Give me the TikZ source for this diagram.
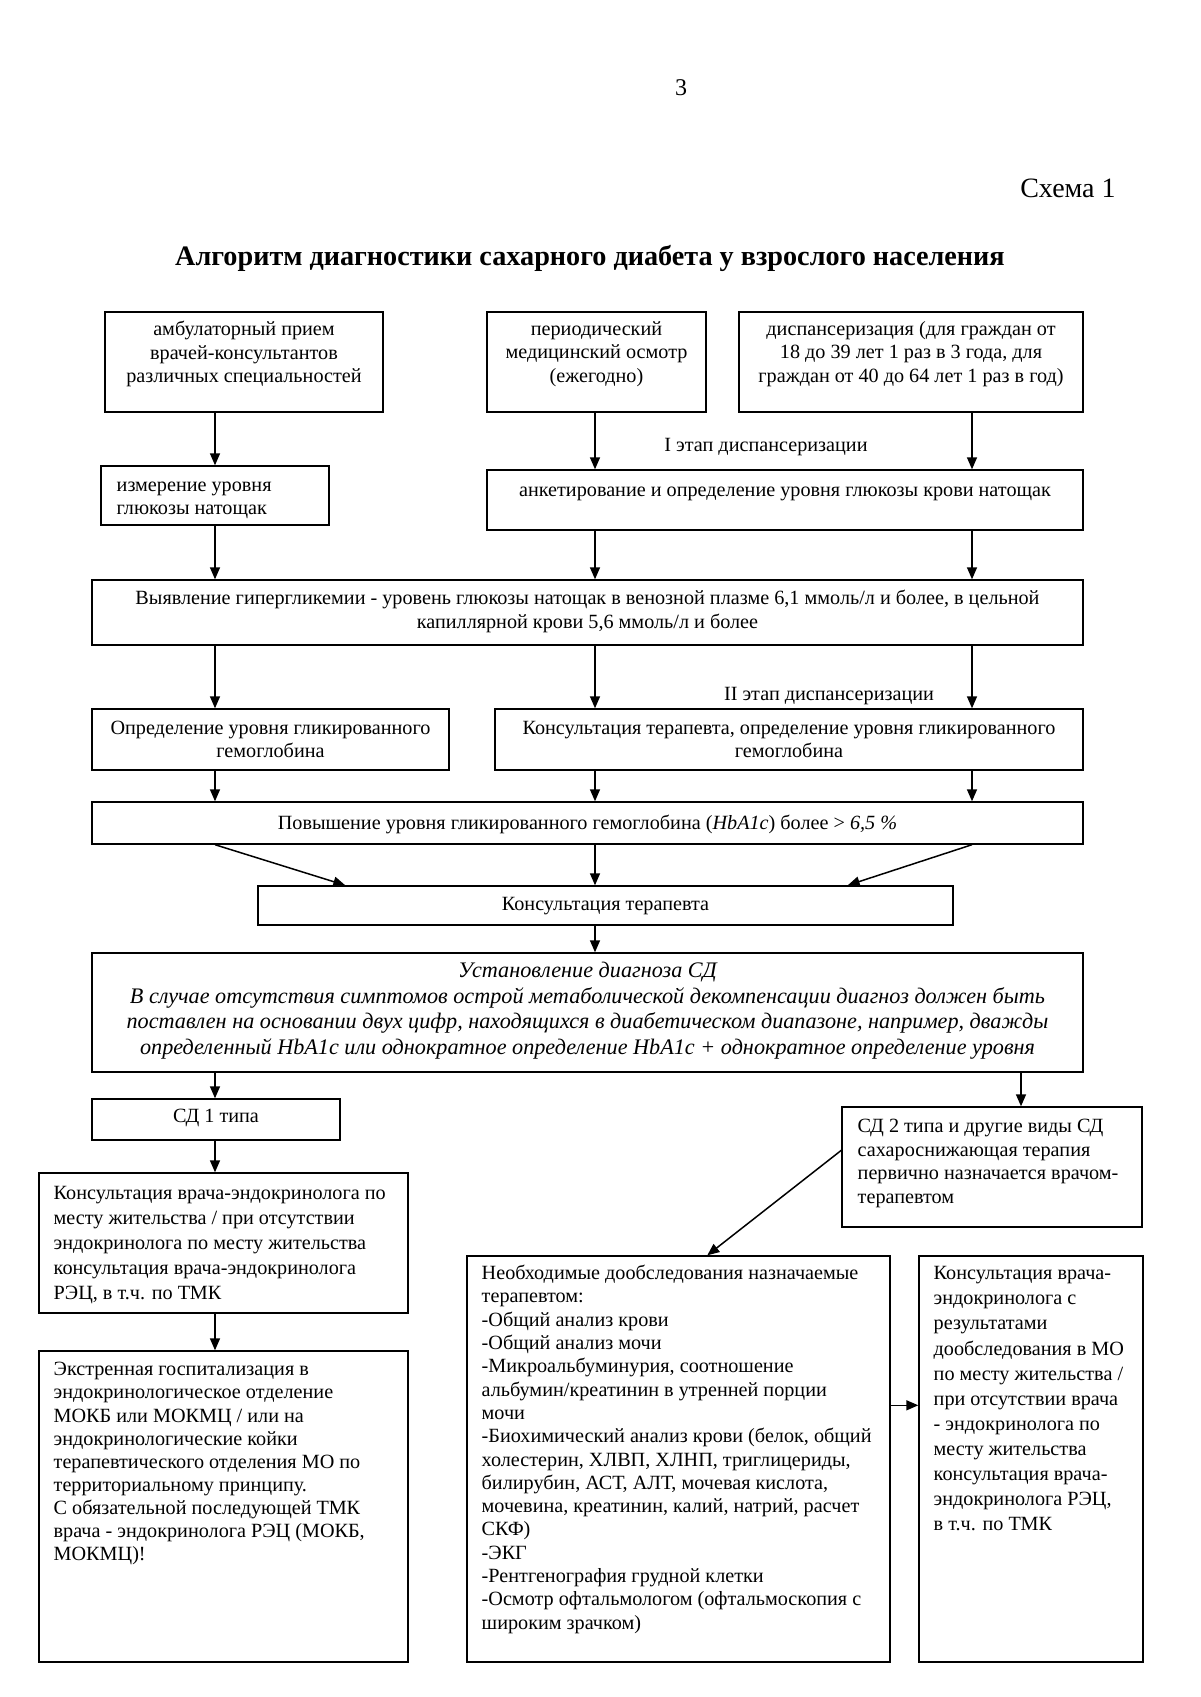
\documentclass[tikz,border=0pt]{standalone}
\usepackage{fontspec}
\setmainfont{Liberation Serif}
\usetikzlibrary{arrows.meta,calc,fit}
\begin{document}
\begin{tikzpicture}[x=0.5pt,y=-0.5pt,
  box/.style={draw,line width=0.7pt,inner sep=0pt},
  arr/.style={line width=0.75pt,-{Triangle[width=5pt,length=6pt]}},
  txt/.style={inner sep=0pt,font=\fontsize{10.1}{#1}\selectfont,execute at begin node=\strut},
  ittxt/.style={inner sep=0pt,font=\fontsize{11.1}{#1}\selectfont\itshape,execute at begin node=\strut},
  lbl/.style={inner sep=0pt,font=\fontsize{10.1}{12}\selectfont}
]
\fill[white] (0,0) rectangle (1200,1697);
\useasboundingbox (0,0) rectangle (1200,1697);

% page header
\node[inner sep=0pt,font=\fontsize{12}{14}\selectfont] (pnum) at (681,88) {3};
\node[inner sep=0pt,font=\fontsize{14}{16}\selectfont,anchor=east] (schema) at (1116,188) {Схема 1};
\node[inner sep=0pt,font=\fontsize{14.1}{16}\selectfont\bfseries] (title) at (590,258) {Алгоритм диагностики сахарного диабета у взрослого населения};

% boxes
\node[box,fit={(105,312) (383,412)}] (A) {};
\node[box,fit={(487,312) (706,412)}] (B) {};
\node[box,fit={(739,312) (1083,412)}] (C) {};
\node[box,fit={(101,466) (329,525)}] (D) {};
\node[box,fit={(487,470) (1083,530)}] (E) {};
\node[box,fit={(92,580) (1083,645)}] (F) {};
\node[box,fit={(92,709) (449,770)}] (G) {};
\node[box,fit={(495,709) (1083,770)}] (H) {};
\node[box,fit={(92,802) (1083,844)}] (I) {};
\node[box,fit={(258,886) (953,925)}] (J) {};
\node[box,fit={(92,953) (1083,1072)}] (K) {};
\node[box,fit={(92,1099) (340,1140)}] (L) {};
\node[box,fit={(842,1107) (1142,1227)}] (M) {};
\node[box,fit={(39,1173) (408,1313)}] (N) {};
\node[box,fit={(39,1351) (408,1662)}] (O) {};
\node[box,fit={(467,1256) (890,1662)}] (P) {};
\node[box,fit={(919,1256) (1143,1662)}] (Q) {};

% texts
\node[txt=11.75pt,align=center,anchor=north] (At) at ($(A.north)+(0,9.5)$) {амбулаторный прием\\врачей-консультантов\\различных специальностей};
\node[txt=11.75pt,align=center,anchor=north] (Bt) at ($(B.north)+(0,9.5)$) {периодический\\медицинский осмотр\\(ежегодно)};
\node[txt=11.75pt,align=center,anchor=north] (Ct) at ($(C.north)+(0,9.5)$) {диспансеризация (для граждан от\\18 до 39 лет 1 раз в 3 года, для\\граждан от 40 до 64 лет 1 раз в год)};
\node[txt=11.5pt,align=left,anchor=north west] (Dt) at ($(D.north west)+(16,16)$) {измерение уровня\\глюкозы натощак};
\node[txt=11.6pt,align=center,anchor=north] (Et) at ($(E.north)+(0,10.8)$) {анкетирование и определение уровня глюкозы крови натощак};
\node[txt=12pt,align=center,anchor=north] (Ft) at ($(F.north)+(0,10.2)$) {Выявление гипергликемии - уровень глюкозы натощак в венозной плазме 6,1 ммоль/л и более, в цельной\\капиллярной крови 5,6 ммоль/л и более};
\node[txt=11.5pt,align=center,anchor=north] (Gt) at ($(G.north)+(0,12.9)$) {Определение уровня гликированного\\гемоглобина};
\node[txt=11.5pt,align=center,anchor=north] (Ht) at ($(H.north)+(0,12.9)$) {Консультация терапевта, определение уровня гликированного\\гемоглобина};
\node[txt=11.6pt,align=center,anchor=north] (It) at ($(I.north)+(0,11.8)$) {Повышение уровня гликированного гемоглобина (\textit{HbA1c}) более > \textit{6,5 \%}};
\node[txt=11.6pt,align=center,anchor=north] (Jt) at ($(J.north)+(0,8.8)$) {Консультация терапевта};
\node[ittxt=12.75pt,align=center,anchor=north] (Kt) at ($(K.north)+(0,9.5)$) {Установление диагноза СД\\В случае отсутствия симптомов острой метаболической декомпенсации диагноз должен быть\\поставлен на основании двух цифр, находящихся в диабетическом диапазоне, например, дважды\\определенный HbA1c или однократное определение HbA1c + однократное определение уровня};
\node[txt=11.6pt,align=center,anchor=north] (Lt) at ($(L.north)+(0,8)$) {СД 1 типа};
\node[txt=11.85pt,align=left,anchor=north west] (Mt) at ($(M.north west)+(16,12.4)$) {СД 2 типа и другие виды СД\\сахароснижающая терапия\\первично назначается врачом-\\терапевтом};
\node[txt=12.4pt,align=left,anchor=north west] (Nt) at ($(N.north west)+(15,14)$) {Консультация врача-эндокринолога по\\месту жительства / при отсутствии\\эндокринолога по месту жительства\\консультация врача-эндокринолога\\РЭЦ, в т.ч. по ТМК};
\node[txt=11.55pt,align=left,anchor=north west] (Ot) at ($(O.north west)+(15,11.8)$) {Экстренная госпитализация в\\эндокринологическое отделение\\МОКБ или МОКМЦ / или на\\эндокринологические койки\\терапевтического отделения МО по\\территориальному принципу.\\С обязательной последующей ТМК\\врача - эндокринолога РЭЦ (МОКБ,\\МОКМЦ)!};
\node[txt=11.65pt,align=left,anchor=north west] (Pt) at ($(P.north west)+(15,9.5)$) {Необходимые дообследования назначаемые\\терапевтом:\\-Общий анализ крови\\-Общий анализ мочи\\-Микроальбуминурия, соотношение\\альбумин/креатинин в утренней порции\\мочи\\-Биохимический анализ крови (белок, общий\\холестерин, ХЛВП, ХЛНП, триглицериды,\\билирубин, АСТ, АЛТ, мочевая кислота,\\мочевина, креатинин, калий, натрий, расчет\\СКФ)\\-ЭКГ\\-Рентгенография грудной клетки\\-Осмотр офтальмологом (офтальмоскопия с\\широким зрачком)};
\node[txt=12.55pt,align=left,anchor=north west] (Qt) at ($(Q.north west)+(15,10.8)$) {Консультация врача-\\эндокринолога с\\результатами\\дообследования в МО\\по месту жительства /\\при отсутствии врача\\- эндокринолога по\\месту жительства\\консультация врача-\\эндокринолога РЭЦ,\\в т.ч. по ТМК};

% labels
\node[lbl] (st1) at (766,447) {I этап диспансеризации};
\node[lbl] (st2) at (829,696) {II этап диспансеризации};

% columns
\coordinate (c1) at (215,0);
\coordinate (c2) at (595,0);
\coordinate (c3) at (972,0);
\coordinate (c4) at (1021,0);

% connectors
\draw[arr] (c1 |- A.south) -- (c1 |- D.north);
\draw[arr] (c2 |- B.south) -- (c2 |- E.north);
\draw[arr] (c3 |- C.south) -- (c3 |- E.north);
\draw[arr] (c1 |- D.south) -- (c1 |- F.north);
\draw[arr] (c2 |- E.south) -- (c2 |- F.north);
\draw[arr] (c3 |- E.south) -- (c3 |- F.north);
\draw[arr] (c1 |- F.south) -- (c1 |- G.north);
\draw[arr] (c2 |- F.south) -- (c2 |- H.north);
\draw[arr] (c3 |- F.south) -- (c3 |- H.north);
\draw[arr] (c1 |- G.south) -- (c1 |- I.north);
\draw[arr] (c2 |- H.south) -- (c2 |- I.north);
\draw[arr] (c3 |- H.south) -- (c3 |- I.north);
\draw[arr] (c1 |- I.south) -- ($(J.north west)+(88,0)$);
\draw[arr] (c2 |- I.south) -- (c2 |- J.north);
\draw[arr] (c3 |- I.south) -- ($(J.north east)+(-106,0)$);
\draw[arr] (c2 |- J.south) -- (c2 |- K.north);
\draw[arr] (c1 |- K.south) -- (c1 |- L.north);
\draw[arr] (c4 |- K.south) -- (c4 |- M.north);
\draw[arr] (c1 |- L.south) -- (c1 |- N.north);
\draw[arr] (c1 |- N.south) -- (c1 |- O.north);
\draw[arr] ($(M.north west)+(0,44)$) -- ($(P.north west)+(241,0)$);
\draw[arr] ($(P.north east)+(0,150)$) -- ($(Q.north west)+(0,150)$);
\end{tikzpicture}
\end{document}
